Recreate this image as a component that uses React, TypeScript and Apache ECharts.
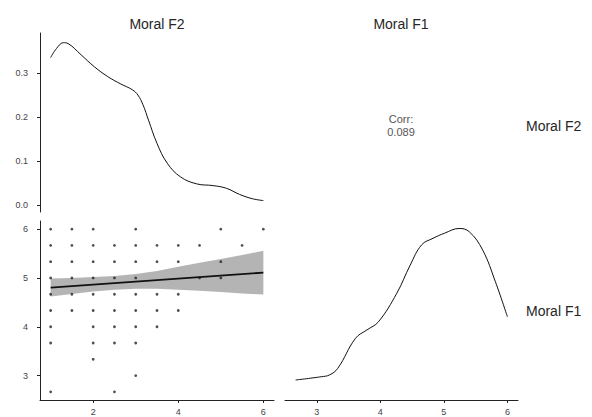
import React, { useEffect, useRef } from "react";
import * as echarts from "echarts";

// Diagonal density of Moral F2 (top-left panel)
const f2DensX = [1.0, 1.14, 1.3, 1.41, 1.72, 2.03, 2.34, 2.65, 2.92, 3.05, 3.17, 3.3, 3.5, 3.74, 4.05, 4.43, 4.82, 5.13, 5.44, 5.75, 6.0];
const f2DensY = [0.335, 0.356, 0.369, 0.367, 0.341, 0.314, 0.292, 0.275, 0.262, 0.25, 0.228, 0.193, 0.14, 0.095, 0.064, 0.048, 0.044, 0.038, 0.024, 0.014, 0.01];

// Diagonal density of Moral F1 (bottom-right panel)
const f1DensX = [2.667, 3.07, 3.2, 3.33, 3.61, 3.79, 3.97, 4.26, 4.47, 4.65, 4.83, 5.01, 5.24, 5.4, 5.61, 5.81, 6.0];
const f1DensY = [0.067, 0.078, 0.084, 0.106, 0.207, 0.235, 0.262, 0.358, 0.452, 0.52, 0.542, 0.559, 0.575, 0.564, 0.503, 0.397, 0.279];

// Scatter (x = Moral F2, y = Moral F1)
const scatterF1Levels = [6, 5.667, 5.333, 5, 4.667, 4.333, 4, 3.667, 3.333, 3, 2.667];
const scatterF2ByLevel = [
  [1, 1.5, 2, 3, 5, 6],
  [1, 1.5, 2, 2.5, 3, 3.5, 4, 4.5, 5.5],
  [1, 1.5, 2, 2.5, 3, 3.5, 4, 5],
  [1, 1.5, 2, 2.5, 3, 4.5, 5],
  [1, 1.5, 2, 2.5, 3, 3.5, 4],
  [1, 1.5, 2, 2.5, 3, 3.5, 4],
  [1, 2, 2.5, 3, 3.5],
  [1, 2, 2.5, 3],
  [2],
  [3],
  [1, 2.5],
];

// Linear fit with confidence band
const fitX = [1, 6];
const fitY = [4.8, 5.11];
const bandX = [1, 1.5, 2, 2.5, 3, 3.5, 4, 4.5, 5, 5.5, 6];
const bandLow = [4.62, 4.67, 4.72, 4.76, 4.78, 4.78, 4.76, 4.74, 4.71, 4.68, 4.66];
const bandHigh = [4.99, 5.0, 5.02, 5.04, 5.08, 5.14, 5.23, 5.31, 5.39, 5.47, 5.555];

const corrValue = "0.089";

const FONT = "'Liberation Sans', Arial, sans-serif";

export default function App() {
  const ref = useRef<HTMLDivElement>(null);
  useEffect(() => {
    if (!ref.current) return;
    const chart = echarts.init(ref.current, null, { renderer: "svg" });
    const scatterData: number[][] = [];
    scatterF1Levels.forEach((lvl, i) => {
      scatterF2ByLevel[i].forEach((x) => scatterData.push([x, lvl]));
    });
    const bandData = bandX.map((x, i) => [x, bandLow[i], bandHigh[i]]);
    const axisLabel = { color: "#444", fontSize: 9, fontFamily: FONT };
    const axisLine = { show: true, lineStyle: { color: "#222", width: 1 } };
    const axisTick = { show: true, length: 3, lineStyle: { color: "#222", width: 1 } };
    const option: any = {
      animation: false,
      backgroundColor: "#fff",
      grid: [
        { left: 40, top: 33, width: 234, height: 179 },
        { left: 40, top: 221, width: 234, height: 179 },
        { left: 285, top: 221, width: 233, height: 179 },
      ],
      xAxis: [
        { gridIndex: 0, type: "value", min: 0.75, max: 6.25, show: false },
        {
          gridIndex: 1, type: "value", min: 0.75, max: 6.25,
          axisLine, axisTick: { ...axisTick, customValues: [2, 4, 6] },
          axisLabel: { ...axisLabel, margin: 7, customValues: [2, 4, 6] },
          splitLine: { show: false },
        },
        {
          gridIndex: 2, type: "value", min: 2.5, max: 6.1667,
          axisLine, axisTick: { ...axisTick, customValues: [3, 4, 5, 6] },
          axisLabel: { ...axisLabel, margin: 7, customValues: [3, 4, 5, 6] },
          splitLine: { show: false },
        },
      ],
      yAxis: [
        {
          gridIndex: 0, type: "value", min: -0.016, max: 0.391,
          axisLine, axisTick: { ...axisTick, customValues: [0, 0.1, 0.2, 0.3] },
          axisLabel: { ...axisLabel, margin: 12, customValues: [0, 0.1, 0.2, 0.3], formatter: (v: number) => v.toFixed(1) },
          splitLine: { show: false },
        },
        {
          gridIndex: 1, type: "value", min: 2.5, max: 6.1667,
          axisLine, axisTick: { ...axisTick, customValues: [3, 4, 5, 6] },
          axisLabel: { ...axisLabel, margin: 12, customValues: [3, 4, 5, 6] },
          splitLine: { show: false },
        },
        { gridIndex: 2, type: "value", min: 0, max: 0.6, show: false },
      ],
      series: [
        {
          type: "line", xAxisIndex: 0, yAxisIndex: 0, smooth: 0.4, symbol: "none",
          lineStyle: { color: "#111", width: 1 },
          data: f2DensX.map((x, i) => [x, f2DensY[i]]),
        },
        {
          type: "scatter", xAxisIndex: 1, yAxisIndex: 1, symbol: "circle", symbolSize: 2.8,
          itemStyle: { color: "#222" },
          data: scatterData,
        },
        {
          type: "custom", xAxisIndex: 1, yAxisIndex: 1,
          data: bandData,
          encode: { x: 0, y: [1, 2] },
          renderItem: (params: any, api: any) => {
            if (params.dataIndex !== 0) return null;
            const upper = bandData.map((d) => api.coord([d[0], d[2]]));
            const lower = bandData.map((d) => api.coord([d[0], d[1]])).reverse();
            return {
              type: "polygon",
              shape: { points: upper.concat(lower) },
              style: { fill: "#828282", opacity: 0.6 },
            };
          },
        },
        {
          type: "line", xAxisIndex: 1, yAxisIndex: 1, symbol: "none",
          lineStyle: { color: "#111", width: 1.8 },
          data: fitX.map((x, i) => [x, fitY[i]]),
        },
        {
          type: "line", xAxisIndex: 2, yAxisIndex: 2, smooth: 0.4, symbol: "none",
          lineStyle: { color: "#111", width: 1 },
          data: f1DensX.map((x, i) => [x, f1DensY[i]]),
        },
      ],
      graphic: [
        { type: "text", x: 157, y: 24, style: { text: "Moral F2", fill: "#262626", font: `14px ${FONT}`, align: "center", verticalAlign: "middle" } },
        { type: "text", x: 401, y: 24, style: { text: "Moral F1", fill: "#262626", font: `14px ${FONT}`, align: "center", verticalAlign: "middle" } },
        { type: "text", x: 526, y: 126, style: { text: "Moral F2", fill: "#262626", font: `14px ${FONT}`, align: "left", verticalAlign: "middle" } },
        { type: "text", x: 526, y: 311, style: { text: "Moral F1", fill: "#262626", font: `14px ${FONT}`, align: "left", verticalAlign: "middle" } },
        { type: "text", x: 401, y: 119, style: { text: "Corr:", fill: "#555", font: `11px ${FONT}`, align: "center", verticalAlign: "middle" } },
        { type: "text", x: 401, y: 132, style: { text: corrValue, fill: "#555", font: `11px ${FONT}`, align: "center", verticalAlign: "middle" } },
      ],
    };
    chart.setOption(option);
    return () => chart.dispose();
  }, []);
  return <div ref={ref} style={{ position: "fixed", left: 0, top: 0, width: 592, height: 417 }} />;
}
